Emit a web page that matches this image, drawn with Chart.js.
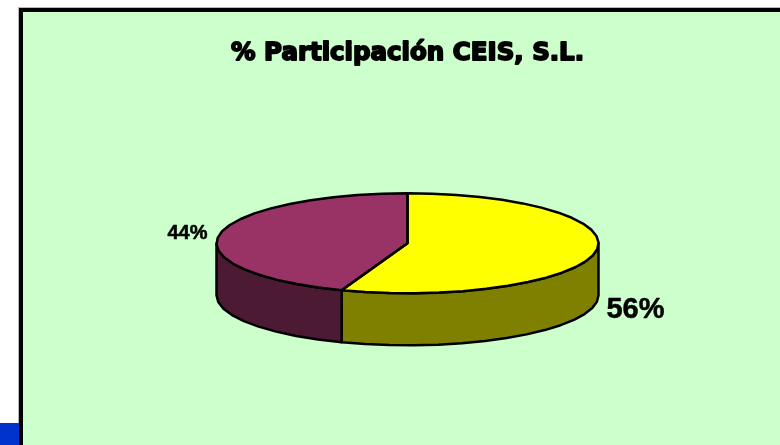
<!DOCTYPE html>
<html>
<head>
<meta charset="utf-8">
<title>% Participación CEIS, S.L.</title>
<script src="https://cdn.jsdelivr.net/npm/chart.js@4"></script>
<style>
    html, body { margin: 0; padding: 0; background: #fff; width: 780px; height: 445px; overflow: hidden; }
    #shadow { position: absolute; left: 18px; top: 7px; width: 762px; height: 438px; background: #b8b8b8; }
    #frame { position: absolute; left: 19px; top: 8px; width: 761px; height: 437px; box-sizing: border-box; background: #ccffcc; border-left: 4px solid #000; border-top: 4px solid #000; }
    #corner { position: absolute; left: 0; top: 423px; width: 19px; height: 22px; background: #0033cc; }
    #chart { position: absolute; left: 0; top: 0; }
</style>
</head>
<body>
<div id="shadow"></div>
<div id="frame"></div>
<div id="corner"></div>
<canvas id="chart" width="780" height="445"></canvas>
<script>
// ── DATA ────────────────────────────────────────────────────────────
var CATEGORIES = ["A", "B"];
var VALUES = [55.6, 44.4];
var TITLE = "% Participación CEIS, S.L.";

// ── COLORS ──────────────────────────────────────────────────────────
var TOP_COLORS = ["#ffff00", "#993366"];
var SIDE_COLORS = ["#808000", "#4d1a33"];

// ── 3D LOOK ─────────────────────────────────────────────────────────
var CENTER_Y = 243.3;       // screen y of the top face centre
var RADIUS = 191;
var SQUASH = 50 / 191;      // flattening of the disc
var DEPTH = 52;             // wall height
var STEP = Math.PI / 24;    // the original outline is faceted, not smooth

// label placement: [x, y, font size]
var LABEL_POS = [[635.5, 310, 29], [187.5, 233, 20]];

// ── PLUGIN: flatten the pie, add walls and outlines ─────────────────
function arcs(chart) {
    return chart.getDatasetMeta(0).data;
}

// faceted piece of the ellipse, from angle a to angle b
function facets(ctx, cx, cy, a, b) {
    var dir = b > a ? 1 : -1;
    var n = Math.max(1, Math.round(Math.abs(b - a) / STEP));
    for (var i = 0; i <= n; i++) {
        var t = a + dir * Math.abs(b - a) * i / n;
        ctx.lineTo(cx + RADIUS * Math.cos(t), cy + RADIUS * SQUASH * Math.sin(t));
    }
}

var disc = {
    id: "disc",
    beforeDatasetsDraw: function (chart) {
        var ctx = chart.ctx;
        var list = arcs(chart);
        var cx = list[0].x;
        var cy = list[0].y;

        ctx.save();
        ctx.lineWidth = 2.5;
        ctx.strokeStyle = "#000";
        ctx.lineJoin = "round";

        // only the front half of the disc shows a wall
        for (var i = 0; i < list.length; i++) {
            var a = Math.max(list[i].startAngle, 0);
            var b = Math.min(list[i].endAngle, Math.PI);
            if (b <= a) continue;
            ctx.beginPath();
            facets(ctx, cx, CENTER_Y, a, b);
            facets(ctx, cx, CENTER_Y + DEPTH, b, a);
            ctx.closePath();
            ctx.fillStyle = SIDE_COLORS[i];
            ctx.fill();
            ctx.stroke();
        }
        ctx.restore();

        // the library draws the top face through this transform
        ctx.save();
        ctx.translate(0, CENTER_Y - SQUASH * cy);
        ctx.scale(1, SQUASH);
    },
    afterDatasetsDraw: function (chart) {
        var ctx = chart.ctx;
        ctx.restore();

        var list = arcs(chart);
        var cx = list[0].x;

        ctx.save();
        ctx.lineWidth = 2.5;
        ctx.strokeStyle = "#000";
        ctx.lineJoin = "round";
        for (var i = 0; i < list.length; i++) {
            ctx.beginPath();
            ctx.moveTo(cx, CENTER_Y);
            facets(ctx, cx, CENTER_Y, list[i].startAngle, list[i].endAngle);
            ctx.closePath();
            ctx.stroke();
        }

        // percentage labels
        var total = VALUES.reduce(function (s, v) { return s + v; }, 0);
        ctx.fillStyle = "#000";
        ctx.textAlign = "center";
        ctx.textBaseline = "middle";
        ctx.lineWidth = 0.5;
        for (var j = 0; j < VALUES.length; j++) {
            var txt = Math.round(VALUES[j] / total * 100) + "%";
            ctx.font = "bold " + LABEL_POS[j][2] + "px 'Liberation Sans'";
            ctx.fillText(txt, LABEL_POS[j][0], LABEL_POS[j][1]);
            ctx.strokeText(txt, LABEL_POS[j][0], LABEL_POS[j][1]);
        }
        ctx.restore();
    },
    afterDraw: function (chart) {
        // title face is much heavier than any installed bold
        var ctx = chart.ctx;
        var t = chart.titleBlock;
        ctx.save();
        ctx.font = t.options.font.weight + " " + t.options.font.size + "px '" + t.options.font.family + "'";
        ctx.textAlign = "center";
        ctx.textBaseline = "middle";
        ctx.strokeStyle = "#000";
        ctx.lineWidth = 1.8;
        ctx.lineJoin = "round";
        ctx.strokeText(TITLE, t.left + t.width / 2, t.top + t.height / 2);
        ctx.restore();
    }
};

// ── CHART ───────────────────────────────────────────────────────────
new Chart(document.getElementById("chart"), {
    type: "pie",
    data: {
        labels: CATEGORIES,
        datasets: [{
            data: VALUES,
            backgroundColor: TOP_COLORS,
            borderWidth: 0,
            clip: false
        }]
    },
    options: {
        responsive: false,
        animation: false,
        radius: RADIUS,
        layout: { padding: { left: 35, right: 0, top: 39, bottom: 10 } },
        plugins: {
            legend: { display: false },
            tooltip: { enabled: false },
            title: {
                display: true,
                text: TITLE,
                color: "#000",
                font: { family: "DejaVu Sans", size: 24.5, weight: "bold" },
                padding: { top: 0, bottom: 0 }
            }
        }
    },
    plugins: [disc]
});
</script>
</body>
</html>
